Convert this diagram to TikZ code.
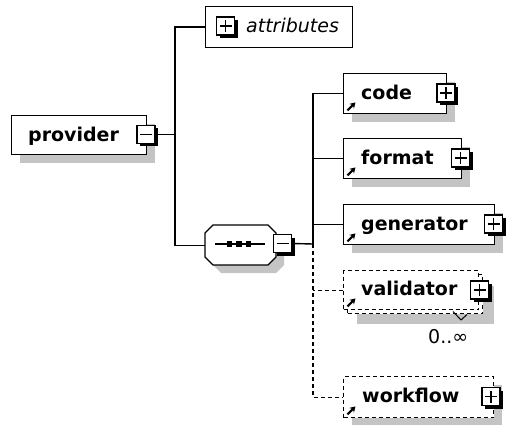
\documentclass[tikz,border=0pt]{standalone}
\usepackage{fontspec}
\setmainfont{DejaVu Sans}
\usetikzlibrary{shadows,arrows.meta}
\definecolor{shc}{RGB}{196,196,196}
\tikzset{
  conn/.style={line width=1.4pt},
  dconn/.style={line width=1.4pt, dash pattern=on 4pt off 3pt},
  elbox/.style={draw, fill=white, line width=1.4pt, inner sep=0pt, anchor=north west},
  shad/.style={general shadow={fill=shc, shadow xshift=8pt, shadow yshift=-8pt}},
  lbl/.style={inner sep=0pt, anchor=base west, font=\fontsize{19}{22}\selectfont\bfseries},
  pmbase/.style={draw, fill=white, line width=1.3pt, minimum size=18pt, inner sep=0pt,
     general shadow={fill=black, shadow xshift=3pt, shadow yshift=-3pt}},
  minusbox/.style={pmbase, path picture={
     \draw[line width=1.4pt] ([xshift=-6pt]path picture bounding box.center) -- ([xshift=6pt]path picture bounding box.center);}},
  plusbox/.style={pmbase, path picture={
     \draw[line width=1.4pt] ([xshift=-6pt]path picture bounding box.center) -- ([xshift=6pt]path picture bounding box.center);
     \draw[line width=1.4pt] ([yshift=-6pt]path picture bounding box.center) -- ([yshift=6pt]path picture bounding box.center);}},
  refarrow/.style={line width=2.2pt, -{Stealth[length=5.5pt,width=6.5pt]}}
}
\begin{document}
\begin{tikzpicture}[x=1pt,y=-1pt]
\useasboundingbox (0,0) rectangle (506,425);

% coordinates of the connector junctions
\coordinate (pj) at (175,134.5);
\coordinate (cj) at (313,244);

% provider
\node[elbox, shad, minimum width=135pt, minimum height=39pt] (provider) at (11,115) {};
\node[lbl] (providert) at (28,141.5) {provider};
\node[minusbox] (provpm) at (146,134.5) {};

% attributes
\node[elbox, minimum width=147pt, minimum height=41pt] (attr) at (205,6) {};
\node[plusbox] (attrpm) at (225.5,26) {};
\node[lbl, font=\fontsize{19}{22}\selectfont\itshape] (attrt) at (246,33) {attributes};

% choice (sequence compositor)
\fill[shc] (213,241) -- (221,233) -- (276,233) -- (284,241) -- (284,265) -- (276,273) -- (221,273) -- (213,265) -- cycle;
\node[minimum width=71pt, minimum height=40pt, inner sep=0pt, anchor=north west] (choice) at (205,225) {};
\draw[line width=1.4pt, fill=white] (205,233) -- (213,225) -- (268,225) -- (276,233) -- (276,257) -- (268,265) -- (213,265) -- (205,257) -- cycle;
\draw[line width=1.4pt] (215,244) -- (265,244);
\foreach \xx in {229.5,239,248.5} \fill (\xx-2.7,241.3) rectangle (\xx+2.7,246.7);
\node[minusbox] (chpm) at (282.5,243.5) {};

% connectors from provider
\draw[conn] (provpm.east) -- (pj);
\draw[conn] (attr.west) -| (pj) |- (choice.west);
\draw[conn] (chpm.east) -- (cj);

% code
\node[elbox, shad, minimum width=103pt, minimum height=40pt] (code) at (343,73) {};
\node[lbl] (codet) at (361,99.5) {code};
\node[plusbox] (codepm) at (446,93) {};
% format
\node[elbox, shad, minimum width=118pt, minimum height=40pt] (format) at (343,138) {};
\node[lbl] (formatt) at (361,164.5) {format};
\node[plusbox] (formatpm) at (460.5,158) {};
% generator
\node[elbox, shad, minimum width=151pt, minimum height=40pt] (generator) at (343,204) {};
\node[lbl] (generatort) at (361,230.5) {generator};
\node[plusbox] (generatorpm) at (493.5,224) {};

% validator (multiple)
\fill[shc] (357,286) rectangle (494,324);
\node[elbox, dconn, minimum width=135pt, minimum height=39pt] (valb) at (347,274) {};
\node[elbox, dconn, minimum width=135pt, minimum height=39pt] (valf) at (343,270) {};
\node[lbl] (validatort) at (361,295.5) {validator};
\node[plusbox] (valpm) at (479.5,290) {};
\draw[line width=1pt] (453,311.5) -- (461,320) -- (467,314.5);
\node[inner sep=0pt, anchor=base west, font=\fontsize{19}{22}\selectfont] (occ) at (428,343) {0..∞};

% workflow
\node[elbox, dconn, shad, minimum width=150pt, minimum height=41pt] (workflow) at (343,376) {};
\node[lbl] (workflowt) at (362,402) {workflow};
\node[plusbox] (workflowpm) at (491,396.5) {};

% connectors to children
\draw[conn] (code.west) -| (cj);
\draw[conn] (format.west) -- (format.west -| cj);
\draw[conn] (generator.west) -- (generator.west -| cj);
\draw[dconn] (cj) |- (workflow.west);
\draw[dconn] (valf.west) -- (valf.west -| cj);

% reference arrows
\foreach \nn in {code,format,generator,valf,workflow}
  \draw[refarrow] ([shift={(4.5,-4)}]\nn.south west) -- ([shift={(12.5,-12)}]\nn.south west);
\end{tikzpicture}
\end{document}
